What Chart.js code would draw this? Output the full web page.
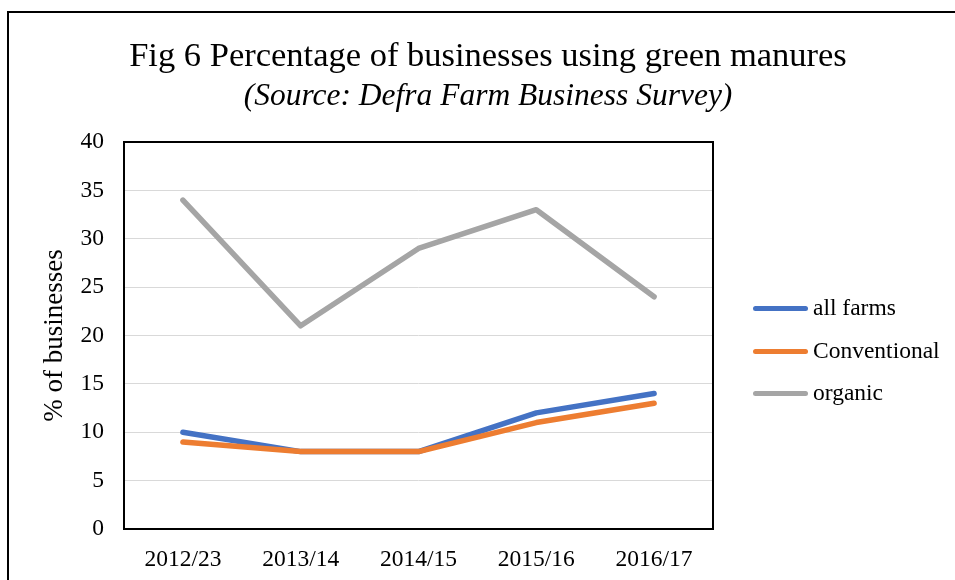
<!DOCTYPE html>
<html>
<head>
<meta charset="utf-8">
<script src="https://cdn.jsdelivr.net/npm/chart.js@4"></script>
<style>
    body { margin: 0; background: #fff; font-family: "Liberation Serif", "Times New Roman", serif; }
    #wrap { position: relative; width: 955px; height: 580px; overflow: hidden; }
    #frame { position: absolute; left: 7px; top: 11px; width: 1000px; height: 700px; border-left: 2px solid #000; border-top: 2px solid #000; }
    canvas { position: absolute; left: 0; top: 0; }
    .title { position: absolute; left: 0; width: 976px; text-align: center; color: #000; white-space: nowrap; }
    #main-title { top: 35px; font-size: 34.5px; }
    #sub-title { top: 77px; font-size: 31.5px; font-style: italic; }
    .legend-item { position: absolute; left: 753px; height: 24px; font-size: 23.5px; line-height: 24px; white-space: nowrap; }
    .legend-line { position: absolute; left: 0; top: 10px; width: 55px; height: 5px; border-radius: 3px; }
    .legend-text { position: absolute; left: 60px; top: -1px; }
</style>
</head>
<body>
<div id="wrap">
    <div id="frame"></div>
    <canvas id="lineChart" width="955" height="580"></canvas>
    <div class="title" id="main-title">Fig 6 Percentage of businesses using green manures</div>
    <div class="title" id="sub-title">(Source: Defra Farm Business Survey)</div>
    <div id="legend"></div>
</div>
<script>
const years = ['2012/23', '2013/14', '2014/15', '2015/16', '2016/17'];
const allFarms = [10, 8, 8, 12, 14];
const conventional = [9, 8, 8, 11, 13];
const organic = [34, 21, 29, 33, 24];

const seriesNames = ['all farms', 'Conventional', 'organic'];
const seriesColors = ['#4472C4', '#ED7D31', '#A5A5A5'];

const serif = '"Liberation Serif", "Times New Roman", serif';

// legend drawn next to the plot
const legend = document.getElementById('legend');
seriesNames.forEach((name, i) => {
    const item = `
        <div class="legend-item" style="top: ${296 + i * 42.5}px;">
            <div class="legend-line" style="background: ${seriesColors[i]};"></div>
            <div class="legend-text">${name}</div>
        </div>
    `;
    legend.insertAdjacentHTML('beforeend', item);
});

// black box round the plot area
const plotBox = {
    id: 'plotBox',
    beforeDatasetsDraw(chart) {
        const { ctx, chartArea } = chart;
        ctx.save();
        ctx.strokeStyle = '#000';
        ctx.lineWidth = 2;
        ctx.strokeRect(chartArea.left, chartArea.top, chartArea.right - chartArea.left, chartArea.bottom - chartArea.top);
        ctx.restore();
    }
};

function lineSet(label, data, color, order) {
    return {
        label: label,
        data: data,
        borderColor: color,
        backgroundColor: color,
        borderWidth: 5.5,
        borderCapStyle: 'round',
        borderJoinStyle: 'round',
        pointRadius: 0,
        tension: 0,
        fill: false,
        order: order
    };
}

new Chart(document.getElementById('lineChart'), {
    type: 'line',
    data: {
        labels: years,
        datasets: [
            lineSet(seriesNames[0], allFarms, seriesColors[0], 1),
            lineSet(seriesNames[1], conventional, seriesColors[1], 0),
            lineSet(seriesNames[2], organic, seriesColors[2], 2)
        ]
    },
    options: {
        responsive: false,
        animation: false,
        layout: {
            padding: { top: 142, right: 242, left: 35, bottom: 0 }
        },
        plugins: {
            legend: { display: false },
            title: { display: false },
            tooltip: { enabled: false }
        },
        scales: {
            x: {
                offset: true,
                grid: { display: false },
                border: { display: false },
                ticks: {
                    color: '#000',
                    font: { family: serif, size: 23.5 },
                    padding: 9,
                    maxRotation: 0
                },
                afterFit(scale) { scale.height = 51; }
            },
            y: {
                min: 0,
                max: 40,
                grid: { color: '#D9D9D9', lineWidth: 1, drawTicks: false },
                border: { display: false },
                ticks: {
                    stepSize: 5,
                    color: '#000',
                    font: { family: serif, size: 23.5 },
                    padding: 20
                },
                title: {
                    display: true,
                    text: '% of businesses',
                    color: '#000',
                    font: { family: serif, size: 27 }
                },
                afterFit(scale) { scale.width = 89; }
            }
        }
    },
    plugins: [plotBox]
});
</script>
</body>
</html>
